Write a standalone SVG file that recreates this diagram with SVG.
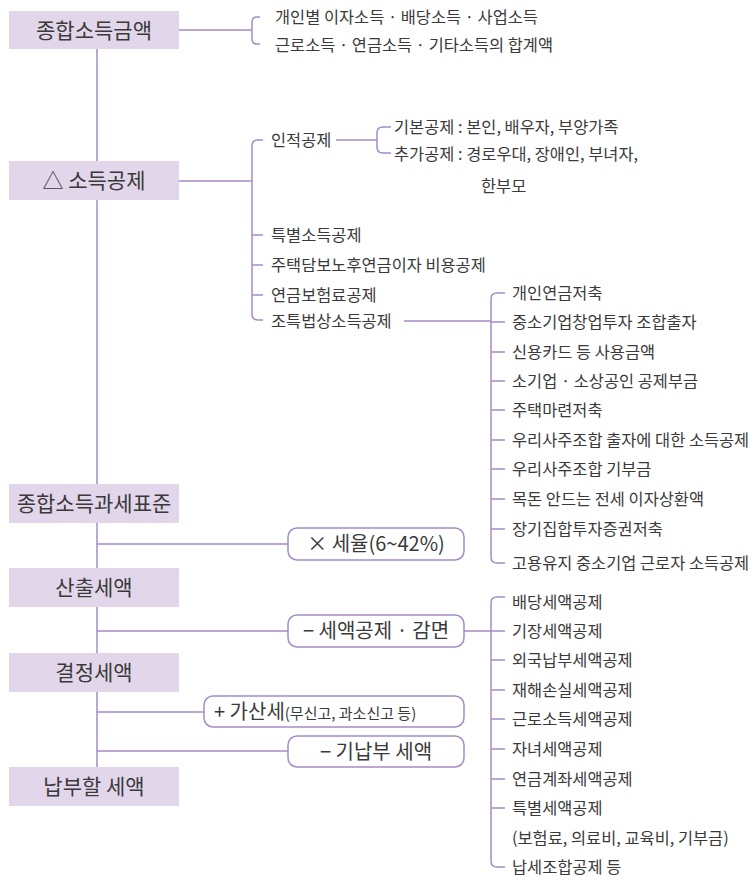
<svg xmlns="http://www.w3.org/2000/svg" width="756" height="889" viewBox="0 0 756 889">
<style>
text{font-family:"Noto Sans CJK KR","Noto Sans",sans-serif;fill:#3a3a3a}
.b{fill:#e2d6ea}
.bt{font-size:21px;text-anchor:middle}
.t{font-size:16.4px}
.l{fill:none;stroke:#a58cc6;stroke-width:1.5}
.p{fill:#fff;stroke:#a58cc6;stroke-width:1.5}
.pt{font-size:20px;text-anchor:middle}
</style>
<rect width="756" height="889" fill="#fff"/>
<g id="connectors">
<path class="l" d="M97 49V767"/>
<path class="l" d="M179 30H252M260 17H257Q252 17 252 22V39Q252 44 257 44H260"/>
<path class="l" d="M179 181H252M263 140H258Q252 140 252 146V314Q252 320 258 320H263M252 235H263M252 265H263M252 295H263"/>
<path class="l" d="M336 140H377M391 127H383Q377 127 377 133V147Q377 153 383 153H391"/>
<path class="l" d="M404 321H491M505 293H497Q491 293 491 299V557Q491 563 497 563H505M491 322H505M491 352H505M491 381H505M491 410H505M491 440H505M491 469H505M491 499H505M491 529H505"/>
<path class="l" d="M97 544H288M97 631H288M97 712H204M97 751H288"/>
<path class="l" d="M464 631H491M505 597H497Q491 597 491 603V861Q491 867 497 867H505M491 631H505M491 660H505M491 690H505M491 719H505M491 749H505M491 779H505M491 808H505"/>
</g>
<g id="n1"><rect class="b" x="9" y="11" width="170" height="38"/><text class="bt" x="94" y="38">종합소득금액</text></g>
<g id="n2"><rect class="b" x="9" y="161" width="170" height="39"/><text class="bt" x="94" y="188">△ 소득공제</text></g>
<g id="n3"><rect class="b" x="9" y="484" width="170" height="39"/><text class="bt" x="94" y="511">종합소득과세표준</text></g>
<g id="n4"><rect class="b" x="9" y="568" width="170" height="39"/><text class="bt" x="94" y="595">산출세액</text></g>
<g id="n5"><rect class="b" x="9" y="653" width="170" height="39"/><text class="bt" x="94" y="680">결정세액</text></g>
<g id="n6"><rect class="b" x="9" y="767" width="170" height="39"/><text class="bt" x="94" y="794">납부할 세액</text></g>
<g id="p1"><rect class="p" x="288" y="528" width="176" height="32" rx="9"/><text class="pt" x="376" y="551">× 세율(6~42%)</text></g>
<g id="p2"><rect class="p" x="288" y="615" width="176" height="32" rx="9"/><text class="pt" x="376" y="638">− 세액공제 · 감면</text></g>
<g id="p3"><rect class="p" x="204" y="696" width="260" height="31" rx="9"/><text x="214" y="719" style="font-size:20px">+ 가산세<tspan style="font-size:15px">(무신고, 과소신고 등)</tspan></text></g>
<g id="p4"><rect class="p" x="288" y="736" width="176" height="31" rx="9"/><text class="pt" x="376" y="759">− 기납부 세액</text></g>
<g id="labels">
<text class="t" x="275" y="23">개인별 이자소득 · 배당소득 · 사업소득</text>
<text class="t" x="275" y="51">근로소득 ·  연금소득 · 기타소득의 합계액</text>
<text class="t" x="271" y="146">인적공제</text>
<text class="t" x="394" y="133">기본공제 : 본인, 배우자, 부양가족</text>
<text class="t" x="394" y="160">추가공제 : 경로우대, 장애인, 부녀자,</text>
<text class="t" x="481" y="192">한부모</text>
<text class="t" x="271" y="241">특별소득공제</text>
<text class="t" x="271" y="271">주택담보노후연금이자 비용공제</text>
<text class="t" x="271" y="301">연금보험료공제</text>
<text class="t" x="271" y="327">조특법상소득공제</text>
<text class="t" x="512" y="299">개인연금저축</text>
<text class="t" x="512" y="328">중소기업창업투자 조합출자</text>
<text class="t" x="512" y="358">신용카드 등 사용금액</text>
<text class="t" x="512" y="387">소기업 · 소상공인 공제부금</text>
<text class="t" x="512" y="416">주택마련저축</text>
<text class="t" x="512" y="446">우리사주조합 출자에 대한 소득공제</text>
<text class="t" x="512" y="475">우리사주조합 기부금</text>
<text class="t" x="512" y="505">목돈 안드는 전세 이자상환액</text>
<text class="t" x="512" y="535">장기집합투자증권저축</text>
<text class="t" x="512" y="569">고용유지 중소기업 근로자 소득공제</text>
<text class="t" x="512" y="608">배당세액공제</text>
<text class="t" x="512" y="637">기장세액공제</text>
<text class="t" x="512" y="666">외국납부세액공제</text>
<text class="t" x="512" y="696">재해손실세액공제</text>
<text class="t" x="512" y="725">근로소득세액공제</text>
<text class="t" x="512" y="755">자녀세액공제</text>
<text class="t" x="512" y="785">연금계좌세액공제</text>
<text class="t" x="512" y="814">특별세액공제</text>
<text class="t" x="512" y="844">(보험료, 의료비, 교육비, 기부금)</text>
<text class="t" x="512" y="873">납세조합공제 등</text>
</g>
</svg>
